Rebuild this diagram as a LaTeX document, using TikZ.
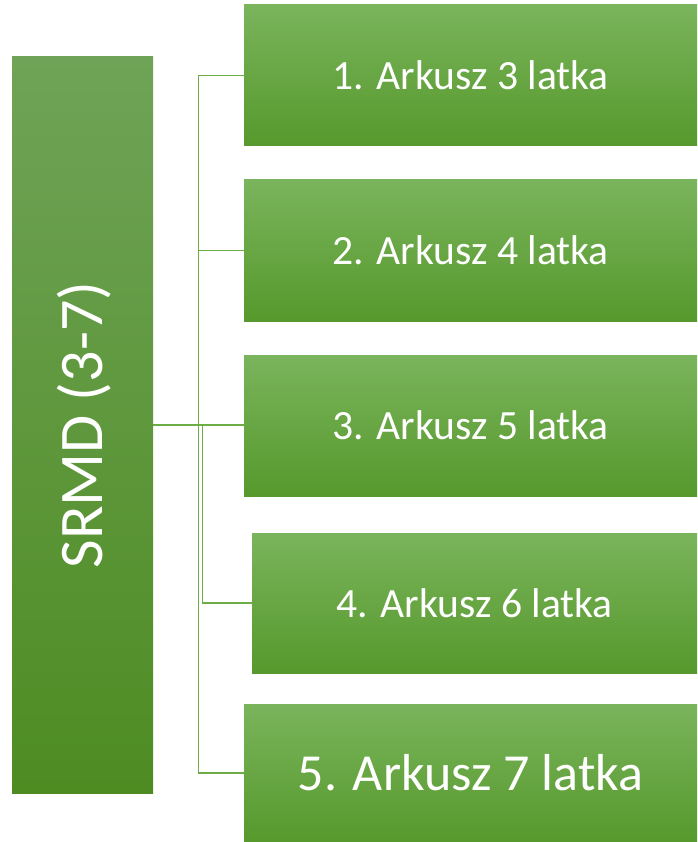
\documentclass[tikz,border=0pt]{standalone}
\usepackage{fontspec}
\setmainfont{Carlito}
\definecolor{lefttop}{HTML}{6FA357}
\definecolor{leftbot}{HTML}{4E8C22}
\definecolor{boxtop}{HTML}{7AB45C}
\definecolor{boxbot}{HTML}{56992C}
\definecolor{conncol}{HTML}{6DAD45}
\tikzset{
  gbox/.style={inner sep=0pt, outer sep=0pt, top color=boxtop, bottom color=boxbot, draw=none,
    text=white, font=\fontsize{41.6}{50}\selectfont},
  lbox/.style={inner sep=0pt, outer sep=0pt, top color=lefttop, bottom color=leftbot, draw=none,
    minimum width=141pt, minimum height=736pt},
  conn/.style={draw=conncol, line width=1.1pt}
}
\begin{document}
\begin{tikzpicture}[x=1pt,y=-1pt]
\useasboundingbox (0,0) rectangle (697,842);
\node[lbox] (L) at (82.5,425) {};
\node[text=white, font=\fontsize{62}{70}\selectfont, rotate=90] (Lt) at (84,425) {SRMD (3-7)};
\node[gbox, minimum width=453pt, minimum height=141pt] (b1) at (470.5,75.5) {1. Arkusz 3 latka};
\node[gbox, minimum width=453pt, minimum height=141pt] (b2) at (470.5,250.5) {2. Arkusz 4 latka};
\node[gbox, minimum width=453pt, minimum height=141pt] (b3) at (470.5,425.5) {3. Arkusz 5 latka};
\node[gbox, minimum width=445pt, minimum height=140pt] (b4) at (474.5,603) {4. Arkusz 6 latka};
\node[gbox, minimum width=453pt, minimum height=138pt, font=\fontsize{52}{60}\selectfont] (b5) at (470.5,773) {5. Arkusz 7 latka};
\coordinate (tr) at (198.5,425);
\coordinate (tr2) at (202.5,425);
\draw[conn] (L.east) -- (L.east -| b3.west);
\draw[conn] (b1.west) -| (tr);
\draw[conn] (b2.west) -| (tr);
\draw[conn] (b5.west) -| (tr);
\draw[conn] (b4.west) -| (tr2);
\end{tikzpicture}
\end{document}
